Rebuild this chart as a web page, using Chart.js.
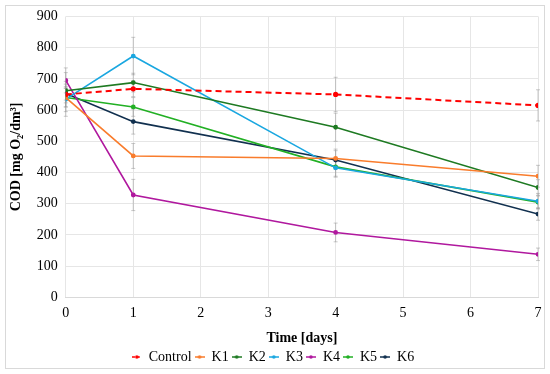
<!DOCTYPE html>
<html>
<head>
<meta charset="utf-8">
<script src="https://cdn.jsdelivr.net/npm/chart.js@4"></script>
<style>
  html, body { margin: 0; padding: 0; background: #fff; }
  #wrap { position: absolute; left: 5px; top: 5px; width: 538px; height: 362px; border: 1px solid #d9d9d9; }
  #container { position: absolute; left: 0; top: 0; width: 550px; height: 374px; }
</style>
</head>
<body>
<div id="wrap"></div>
<div id="container"><canvas id="myChart" width="550" height="374"></canvas></div>
<script>
// sampling days
const days = [0, 1, 4, 7]

const seriesNames = ['Control', 'K1', 'K2', 'K3', 'K4', 'K5', 'K6']
const seriesColors = ['#ff0000', '#f97c2c', '#1e7a22', '#1aa7e0', '#b0189e', '#22b024', '#11304f']

const control = [650, 668, 650, 615]
const k1 = [640, 453, 445, 388]
const k2 = [662, 688, 545, 352]
const k3 = [635, 773, 415, 308]
const k4 = [695, 328, 208, 138]
const k5 = [640, 610, 418, 305]
const k6 = [653, 563, 440, 267]

// standard deviations (error bars)
const controlErr = [70, 25, 55, 50]
const k1Err = [30, 40, 30, 35]
const k2Err = [30, 30, 45, 25]
const k3Err = [40, 60, 30, 25]
const k4Err = [40, 50, 30, 20]
const k5Err = [30, 30, 30, 20]
const k6Err = [30, 40, 30, 20]

const yTicks = [0, 100, 200, 300, 400, 500, 600, 700, 800, 900]

const allValues = [control, k1, k2, k3, k4, k5, k6]
const allErrors = [controlErr, k1Err, k2Err, k3Err, k4Err, k5Err, k6Err]

const serif = "'Liberation Serif', 'DejaVu Serif', serif"

function legendIcon(color, dashed) {
  const c = document.createElement('canvas')
  c.width = 10
  c.height = 6
  const g = c.getContext('2d')
  g.strokeStyle = color
  g.lineWidth = 1.5
  if (dashed) g.setLineDash([3, 2])
  g.beginPath()
  g.moveTo(0, 3)
  g.lineTo(10, 3)
  g.stroke()
  g.fillStyle = color
  g.beginPath()
  g.arc(5, 3, 1.8, 0, Math.PI * 2)
  g.fill()
  return c
}

const errorBars = {
  id: 'errorBars',
  beforeDatasetsDraw(chart) {
    const ctx = chart.ctx
    const xs = chart.scales.x
    const ys = chart.scales.y
    ctx.save()
    ctx.strokeStyle = 'rgba(150,150,150,0.5)'
    ctx.lineWidth = 1
    allValues.forEach((vals, s) => {
      vals.forEach((v, i) => {
        const e = allErrors[s][i]
        const x = xs.getPixelForValue(days[i])
        const y1 = ys.getPixelForValue(v - e)
        const y2 = ys.getPixelForValue(v + e)
        ctx.beginPath()
        ctx.moveTo(x, y1)
        ctx.lineTo(x, y2)
        ctx.moveTo(x - 2, y1)
        ctx.lineTo(x + 2, y1)
        ctx.moveTo(x - 2, y2)
        ctx.lineTo(x + 2, y2)
        ctx.stroke()
      })
    })
    ctx.restore()
  }
}

const datasets = allValues.map((vals, s) => ({
  label: seriesNames[s],
  data: vals.map((v, i) => ({ x: days[i], y: v })),
  borderColor: seriesColors[s],
  backgroundColor: seriesColors[s],
  borderWidth: s === 0 ? 2 : 1.6,
  borderDash: s === 0 ? [6, 4] : [],
  pointRadius: 1.6,
  pointHoverRadius: 1.6,
  tension: 0
}))

const ctx = document.getElementById('myChart')
const myChart = new Chart(ctx, {
  type: 'line',
  data: { datasets: datasets },
  plugins: [errorBars],
  options: {
    responsive: false,
    animation: false,
    layout: { padding: { left: 8, right: 12, top: 10, bottom: 0 } },
    plugins: {
      tooltip: { enabled: false },
      legend: {
        position: 'bottom',
        labels: {
          font: { family: serif, size: 14 },
          color: '#000',
          boxWidth: 10,
          pointStyleWidth: 10,
          padding: 3,
          usePointStyle: true,
          generateLabels(chart) {
            return chart.data.datasets.map((d, i) => ({
              text: d.label,
              pointStyle: legendIcon(seriesColors[i], i === 0),
              fillStyle: seriesColors[i],
              strokeStyle: seriesColors[i],
              lineWidth: 0,
              hidden: false,
              datasetIndex: i
            }))
          }
        }
      }
    },
    scales: {
      x: {
        type: 'linear',
        min: 0,
        max: 7,
        ticks: { stepSize: 1, font: { family: serif, size: 14 }, color: '#000', padding: 8 },
        grid: { color: '#e6e6e6', drawTicks: false },
        border: { color: '#d9d9d9' },
        title: { display: true, text: 'Time [days]', font: { family: serif, size: 14, weight: 'bold' }, color: '#000', padding: { top: 0, bottom: 0 } }
      },
      y: {
        min: 0,
        max: 900,
        afterBuildTicks(axis) { axis.ticks = yTicks.map(v => ({ value: v })) },
        ticks: { font: { family: serif, size: 14 }, color: '#000', padding: 8 },
        grid: { color: '#e6e6e6', drawTicks: false },
        border: { display: false },
        title: { display: true, text: 'COD [mg O\u2082/dm\u00b3]', font: { family: serif, size: 14, weight: 'bold' }, color: '#000', padding: { top: 0, bottom: 4 } }
      }
    }
  }
})
</script>
</body>
</html>
